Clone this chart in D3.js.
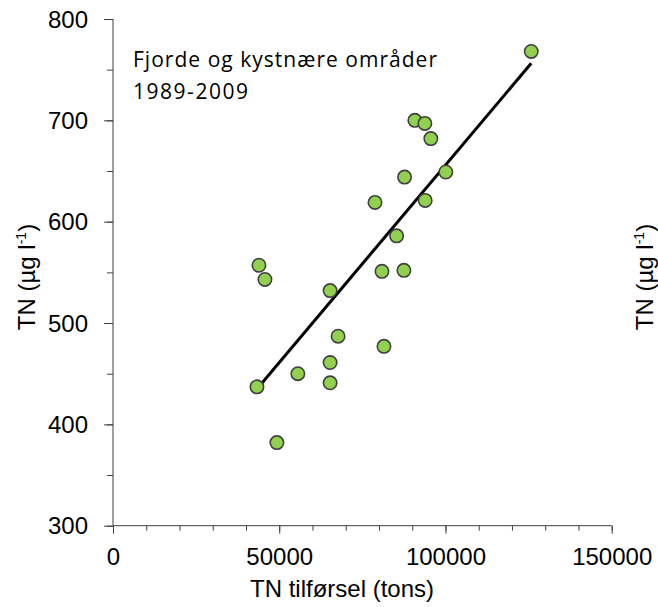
<!DOCTYPE html>
<html>
<head>
<meta charset="utf-8">
<script src="https://cdn.jsdelivr.net/npm/d3@7"></script>
<style>
  body { margin: 0; background: #fff; }
  svg { display: block; }
  .tick text { font-family: "Liberation Sans", Arial, sans-serif; }
</style>
</head>
<body>
<div id="chart"></div>
<script>
// TN load (tons) and TN concentration (ug/l), one point per year 1989-2009
var tnLoad = [43300, 43900, 45700, 49300, 55600, 65300, 65300, 65300, 67700, 78800, 80900,
              81500, 85300, 87500, 87700, 90800, 93800, 93900, 95600, 100100, 125800];
var tnConc = [437, 557, 543, 382, 450, 532, 461, 441, 487, 619, 551,
              477, 586, 552, 644, 700, 697, 621, 682, 649, 768];

var xTicks = [0, 50000, 100000, 150000];
var yTicks = [300, 400, 500, 600, 700, 800];

var width = 658, height = 607;
var svg = d3.select("#chart").append("svg")
  .attr("width", width)
  .attr("height", height);

var x = d3.scaleLinear().domain([0, 150000]).range([113, 611.7]);
var y = d3.scaleLinear().domain([300, 800]).range([525.7, 19]);

var axisColor = "#404040";

// minor ticks first
svg.append("g")
  .attr("transform", "translate(0," + y(300) + ")")
  .call(d3.axisBottom(x).tickValues(d3.range(0, 150001, 10000)).tickSize(5).tickFormat(""))
  .call(g => g.select(".domain").remove())
  .call(g => g.selectAll("line").attr("stroke", axisColor));
svg.append("g")
  .attr("transform", "translate(" + x(0) + ",0)")
  .call(d3.axisLeft(y).tickValues(d3.range(300, 801, 50)).tickSize(6).tickFormat(""))
  .call(g => g.select(".domain").remove())
  .call(g => g.selectAll("line").attr("stroke", axisColor));

// major ticks + labels
var xAxis = svg.append("g")
  .attr("transform", "translate(0," + y(300) + ")")
  .call(d3.axisBottom(x).tickValues(xTicks).tickSize(8).tickPadding(14).tickFormat(d3.format("d")));
var yAxis = svg.append("g")
  .attr("transform", "translate(" + x(0) + ",0)")
  .call(d3.axisLeft(y).tickValues(yTicks).tickSize(9).tickPadding(16).tickFormat(d3.format("d")));

[xAxis, yAxis].forEach(function(a){
  a.select(".domain").attr("stroke", axisColor);
  a.selectAll("line").attr("stroke", axisColor);
  a.selectAll("text").attr("font-size", 24).attr("fill", "#000");
});
xAxis.select(".domain").attr("d", "M" + x(0) + ",0H" + x(150000));
yAxis.select(".domain").attr("d", "M0," + y(300) + "V" + y(800));
yAxis.selectAll("text").attr("dy", "0.34em");

// least squares trend line
var n = tnLoad.length;
var mx = d3.mean(tnLoad), my = d3.mean(tnConc);
var sxy = 0, sxx = 0;
for (var i = 0; i < n; i++) {
  sxy += (tnLoad[i] - mx) * (tnConc[i] - my);
  sxx += (tnLoad[i] - mx) * (tnLoad[i] - mx);
}
var slope = sxy / sxx, icpt = my - slope * mx;
var x0 = d3.min(tnLoad), x1 = d3.max(tnLoad);

svg.append("line")
  .attr("x1", x(x0)).attr("y1", y(icpt + slope * x0))
  .attr("x2", x(x1)).attr("y2", y(icpt + slope * x1))
  .attr("stroke", "#000")
  .attr("stroke-width", 3);

svg.append("g").selectAll("circle")
  .data(d3.range(n))
  .enter().append("circle")
    .attr("cx", function(i){ return x(tnLoad[i]); })
    .attr("cy", function(i){ return y(tnConc[i]); })
    .attr("r", 6.7)
    .attr("fill", "#92d050")
    .attr("stroke", "#404040")
    .attr("stroke-width", 1.6);

// text
var note = svg.append("text")
  .attr("font-family", "'Open Sans', 'Noto Sans', sans-serif")
  .attr("font-size", 21)
  .attr("fill", "#000");
note.append("tspan").attr("x", 133).attr("y", 67)
  .attr("textLength", 304).attr("lengthAdjust", "spacing")
  .text("Fjorde og kystnære områder");
note.append("tspan").attr("x", 133).attr("y", 99)
  .attr("textLength", 115).attr("lengthAdjust", "spacing")
  .text("1989-2009");

svg.append("text")
  .attr("x", 342).attr("y", 597)
  .attr("text-anchor", "middle")
  .attr("font-family", "'Liberation Sans', Arial, sans-serif")
  .attr("font-size", 24)
  .text("TN tilførsel (tons)");

function yTitle(cx) {
  var t = svg.append("text")
    .attr("transform", "translate(" + cx + ",277) rotate(-90)")
    .attr("text-anchor", "middle")
    .attr("font-family", "'Liberation Sans', Arial, sans-serif")
    .attr("font-size", 24);
  t.append("tspan").text("TN (µg l");
  t.append("tspan").attr("font-size", 14).attr("dy", -9).text("-1");
  t.append("tspan").attr("dy", 9).text(")");
}
yTitle(35);
yTitle(653);
</script>
</body>
</html>
